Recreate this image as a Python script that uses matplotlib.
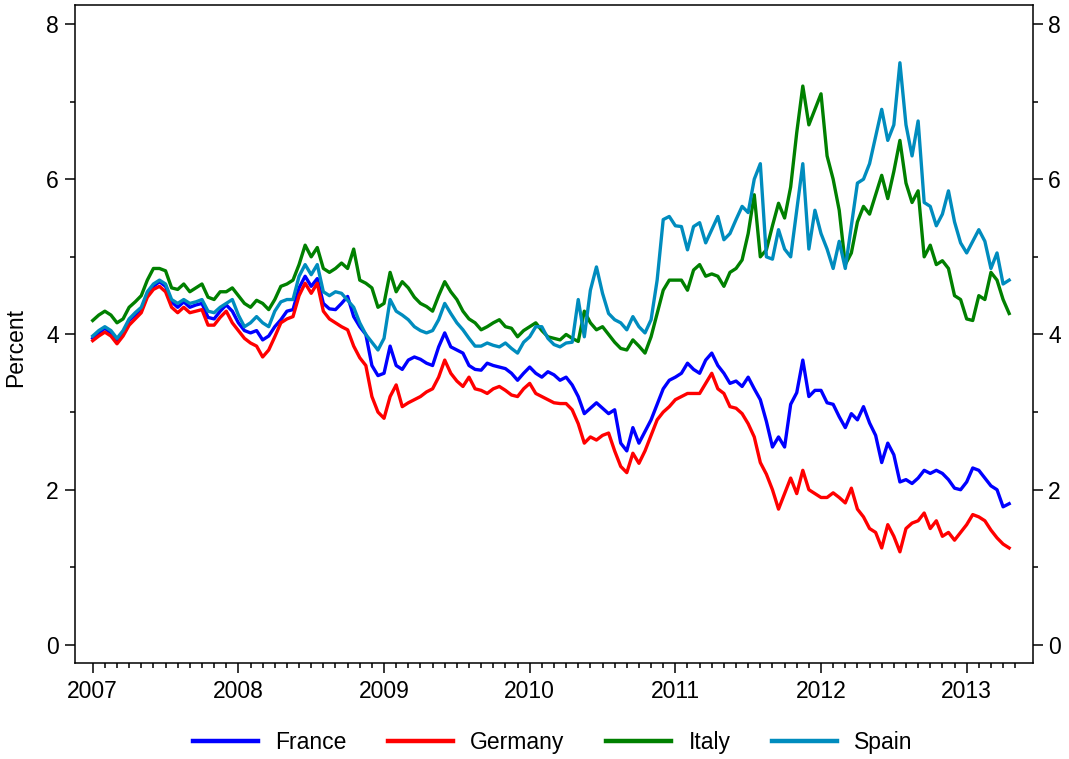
import numpy as np
import matplotlib.pyplot as plt
from matplotlib.ticker import FixedLocator

plt.rcParams['font.family'] = ['Liberation Sans', 'DejaVu Sans']

# 10-year government bond yields, percent, read every half month from Jan 2007
france = [3.95, 4.02, 4.08, 4.02, 3.92, 4.02, 4.18, 4.25, 4.32, 4.52, 4.62, 4.68, 4.62, 4.42, 4.35, 4.42,
          4.35, 4.38, 4.40, 4.22, 4.20, 4.30, 4.38, 4.30, 4.15, 4.05, 4.02, 4.05, 3.93, 3.98, 4.10, 4.19,
          4.30, 4.32, 4.60, 4.75, 4.62, 4.72, 4.40, 4.33, 4.32, 4.40, 4.49, 4.23, 4.10, 4.00, 3.60, 3.47,
          3.50, 3.85, 3.60, 3.55, 3.67, 3.71, 3.68, 3.63, 3.60, 3.84, 4.02, 3.84, 3.80, 3.76, 3.60, 3.55,
          3.54, 3.63, 3.60, 3.58, 3.56, 3.50, 3.41, 3.50, 3.58, 3.50, 3.45, 3.52, 3.48, 3.41, 3.45, 3.35,
          3.20, 2.98, 3.05, 3.12, 3.05, 2.98, 3.03, 2.60, 2.50, 2.80, 2.60, 2.75, 2.90, 3.10, 3.30, 3.41,
          3.45, 3.50, 3.63, 3.55, 3.50, 3.67, 3.76, 3.60, 3.50, 3.37, 3.40, 3.33, 3.45, 3.30, 3.16, 2.88,
          2.55, 2.68, 2.55, 3.10, 3.25, 3.67, 3.20, 3.28, 3.28, 3.12, 3.10, 2.94, 2.80, 2.98, 2.90, 3.07,
          2.86, 2.70, 2.35, 2.60, 2.45, 2.10, 2.13, 2.08, 2.15, 2.25, 2.21, 2.25, 2.21, 2.13, 2.02, 2.00,
          2.10, 2.28, 2.25, 2.15, 2.05, 2.00, 1.78, 1.82]
germany = [3.92, 3.98, 4.03, 3.98, 3.88, 3.98, 4.12, 4.20, 4.28, 4.48, 4.58, 4.62, 4.55, 4.35, 4.28, 4.35,
           4.28, 4.30, 4.32, 4.12, 4.12, 4.22, 4.30, 4.15, 4.05, 3.95, 3.89, 3.85, 3.71, 3.80, 3.97, 4.15,
           4.20, 4.23, 4.50, 4.66, 4.53, 4.66, 4.30, 4.20, 4.15, 4.10, 4.06, 3.85, 3.70, 3.60, 3.20, 3.00,
           2.92, 3.20, 3.35, 3.07, 3.12, 3.16, 3.20, 3.26, 3.30, 3.45, 3.67, 3.50, 3.40, 3.33, 3.45, 3.30,
           3.28, 3.24, 3.30, 3.33, 3.28, 3.22, 3.20, 3.30, 3.37, 3.24, 3.20, 3.16, 3.12, 3.11, 3.11, 3.03,
           2.85, 2.60, 2.68, 2.64, 2.70, 2.73, 2.50, 2.30, 2.22, 2.47, 2.34, 2.50, 2.70, 2.90, 3.00, 3.07,
           3.16, 3.20, 3.24, 3.24, 3.24, 3.37, 3.50, 3.30, 3.24, 3.07, 3.05, 2.98, 2.85, 2.68, 2.35, 2.20,
           2.00, 1.75, 1.95, 2.15, 1.95, 2.25, 2.00, 1.95, 1.90, 1.90, 1.96, 1.90, 1.83, 2.02, 1.75, 1.65,
           1.50, 1.45, 1.25, 1.55, 1.40, 1.20, 1.50, 1.57, 1.60, 1.70, 1.50, 1.60, 1.40, 1.45, 1.35, 1.45,
           1.55, 1.68, 1.65, 1.60, 1.48, 1.38, 1.30, 1.25]
italy = [4.18, 4.25, 4.30, 4.25, 4.15, 4.20, 4.35, 4.42, 4.50, 4.70, 4.85, 4.85, 4.82, 4.60, 4.58, 4.65,
         4.55, 4.60, 4.65, 4.48, 4.45, 4.55, 4.55, 4.60, 4.50, 4.40, 4.35, 4.44, 4.40, 4.32, 4.45, 4.62,
         4.65, 4.70, 4.90, 5.15, 5.00, 5.12, 4.85, 4.80, 4.85, 4.92, 4.85, 5.10, 4.70, 4.66, 4.60, 4.35,
         4.40, 4.80, 4.55, 4.68, 4.60, 4.48, 4.40, 4.36, 4.30, 4.50, 4.68, 4.55, 4.45, 4.30, 4.20, 4.15,
         4.06, 4.10, 4.15, 4.19, 4.10, 4.08, 3.97, 4.05, 4.10, 4.15, 4.05, 3.97, 3.95, 3.93, 4.00, 3.95,
         3.91, 4.30, 4.15, 4.06, 4.10, 4.00, 3.90, 3.82, 3.80, 3.93, 3.85, 3.76, 3.97, 4.27, 4.57, 4.70,
         4.70, 4.70, 4.57, 4.83, 4.90, 4.75, 4.78, 4.75, 4.62, 4.80, 4.85, 4.96, 5.30, 5.80, 5.00, 5.09,
         5.40, 5.69, 5.50, 5.90, 6.60, 7.20, 6.70, 6.90, 7.10, 6.30, 6.00, 5.60, 4.90, 5.05, 5.45, 5.65,
         5.55, 5.80, 6.05, 5.75, 6.10, 6.50, 5.95, 5.70, 5.85, 5.00, 5.15, 4.90, 4.95, 4.85, 4.50, 4.45,
         4.20, 4.18, 4.50, 4.45, 4.80, 4.70, 4.45, 4.27]
spain = [3.98, 4.05, 4.10, 4.05, 3.95, 4.05, 4.20, 4.28, 4.35, 4.55, 4.65, 4.70, 4.65, 4.45, 4.40, 4.45,
         4.40, 4.42, 4.45, 4.30, 4.28, 4.35, 4.40, 4.45, 4.25, 4.10, 4.15, 4.23, 4.15, 4.10, 4.30, 4.42,
         4.45, 4.45, 4.75, 4.90, 4.77, 4.90, 4.55, 4.50, 4.55, 4.53, 4.44, 4.35, 4.15, 4.00, 3.90, 3.80,
         3.95, 4.45, 4.30, 4.25, 4.19, 4.10, 4.05, 4.02, 4.05, 4.19, 4.40, 4.27, 4.15, 4.06, 3.95, 3.85,
         3.85, 3.89, 3.86, 3.84, 3.89, 3.82, 3.76, 3.90, 3.97, 4.10, 4.10, 3.95, 3.87, 3.84, 3.89, 3.90,
         4.45, 3.97, 4.57, 4.87, 4.53, 4.27, 4.19, 4.15, 4.06, 4.23, 4.10, 4.02, 4.19, 4.70, 5.48, 5.52,
         5.40, 5.39, 5.09, 5.39, 5.44, 5.18, 5.35, 5.52, 5.22, 5.30, 5.48, 5.65, 5.57, 6.00, 6.20, 5.00,
         4.97, 5.35, 5.10, 5.00, 5.60, 6.20, 5.10, 5.60, 5.30, 5.10, 4.85, 5.20, 4.85, 5.40, 5.95, 6.00,
         6.20, 6.55, 6.90, 6.50, 6.70, 7.50, 6.70, 6.30, 6.75, 5.70, 5.65, 5.40, 5.55, 5.85, 5.45, 5.18,
         5.05, 5.20, 5.35, 5.20, 4.85, 5.05, 4.65, 4.70]

years = [2007, 2008, 2009, 2010, 2011, 2012, 2013]
t = 2007 + np.arange(len(france)) / 24

fig = plt.figure(figsize=(10.69, 7.59), dpi=100)
ax = fig.add_axes([0.0697, 0.1269, 0.8963, 0.8659])

ax.plot(t, france, color='#0000FF', lw=2.4, label='France')
ax.plot(t, germany, color='#FF0000', lw=2.4, label='Germany')
ax.plot(t, italy, color='#008000', lw=2.4, label='Italy')
ax.plot(t, spain, color='#008CBE', lw=2.4, label='Spain')

ax.set_xlim(2006.875, 2013.453)
ax.set_ylim(-0.228, 8.238)

ax.set_xticks(years)
ax.set_xticklabels([str(y) for y in years])
ax.xaxis.set_minor_locator(FixedLocator(2007 + np.arange(1, 77) / 12))
ax.set_yticks([0, 2, 4, 6, 8])
ax.set_yticks([1, 3, 5, 7], minor=True)

ax.tick_params(axis='both', which='major', direction='out', length=7.2, width=1.1,
               labelsize=16.5, pad=4)
ax.tick_params(axis='both', which='minor', direction='out', length=3.6, width=1.1)
ax.tick_params(axis='y', which='both', right=True, labelright=True)
ax.tick_params(axis='x', which='major', pad=5)
for s in ax.spines.values():
    s.set_linewidth(1.1)

ax.set_ylabel('Percent', fontsize=16.5)
ax.yaxis.set_label_coords(-0.049, 0.479)

leg = fig.legend(loc='center', bbox_to_anchor=(0.517, 0.022), ncol=4, frameon=False,
                 fontsize=16.5, handlelength=2.85, handletextpad=0.75, columnspacing=1.8)
for h in leg.get_lines():
    h.set_linewidth(3.2)

fig.savefig('out.png', dpi=100)
